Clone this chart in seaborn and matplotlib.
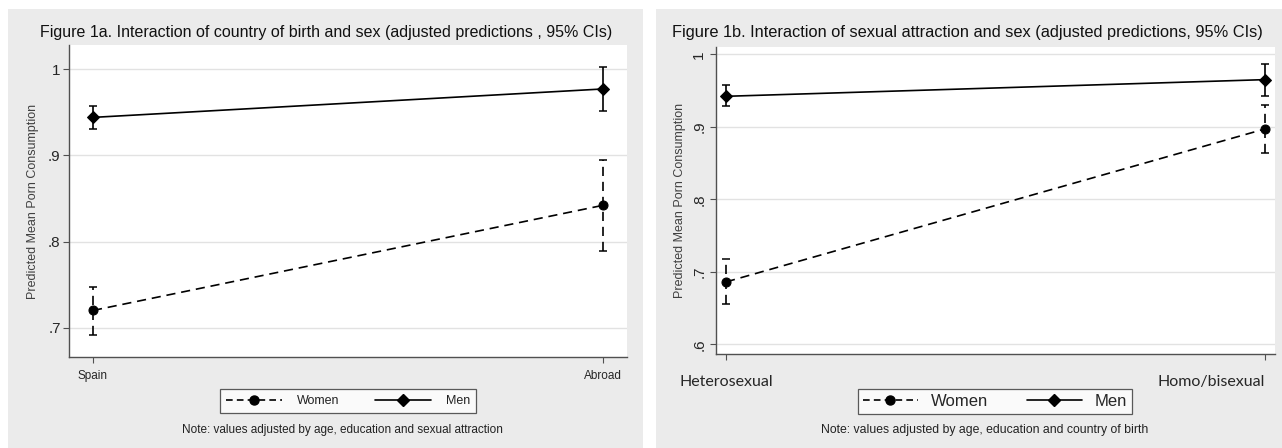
import numpy as np
import pandas as pd
import matplotlib
matplotlib.use("Agg")
import matplotlib.pyplot as plt
from matplotlib.patches import Rectangle
from matplotlib.lines import Line2D
import seaborn as sns

# ---------------- data ----------------
cats_a = ["Spain", "Abroad"]
women_a = [0.720, 0.842]
women_a_lo = [0.692, 0.789]
women_a_hi = [0.747, 0.895]
men_a = [0.944, 0.977]
men_a_lo = [0.930, 0.952]
men_a_hi = [0.957, 1.002]

cats_b = ["Heterosexual", "Homo/bisexual"]
women_b = [0.686, 0.897]
women_b_lo = [0.656, 0.864]
women_b_hi = [0.717, 0.930]
men_b = [0.942, 0.965]
men_b_lo = [0.928, 0.943]
men_b_hi = [0.957, 0.987]

sexes = ["Women", "Men"]
title_a = "Figure 1a. Interaction of country of birth and sex (adjusted predictions , 95% CIs)"
title_b = "Figure 1b. Interaction of sexual attraction and sex (adjusted predictions, 95% CIs)"
note_a = "Note: values adjusted by age, education and sexual attraction"
note_b = "Note: values adjusted by age, education and country of birth"
ylabel = "Predicted Mean Porn Consumption"
yticks_a = [0.7, 0.8, 0.9, 1.0]
yticklabels_a = [".7", ".8", ".9", "1"]
yticks_b = [0.6, 0.7, 0.8, 0.9, 1.0]
yticklabels_b = [".6", ".7", ".8", ".9", "1"]

sns.set_style("white")
plt.rcParams["font.family"] = ["Liberation Sans", "DejaVu Sans"]

W, H = 1282, 448
fig = plt.figure(figsize=(W / 100, H / 100), dpi=100)
fig.patch.set_facecolor("white")

panel_col = "#ebebeb"
fig.add_artist(Rectangle((8 / W, 0), (643 - 8) / W, (H - 9) / H,
                         transform=fig.transFigure, facecolor=panel_col, edgecolor="none", zorder=0))
fig.add_artist(Rectangle((656 / W, 0), (W - 656) / W, (H - 9) / H,
                         transform=fig.transFigure, facecolor=panel_col, edgecolor="none", zorder=0))


def make_df(cats, women, men):
    rows = []
    for i, c in enumerate(cats):
        rows.append({"cat": c, "sex": "Women", "val": women[i]})
        rows.append({"cat": c, "sex": "Men", "val": men[i]})
    return pd.DataFrame(rows)


def draw(ax, cats, women, wlo, whi, men, mlo, mhi, ylim, xlim, yticks, yticklabels):
    df = make_df(cats, women, men)
    sns.lineplot(data=df, x="cat", y="val", hue="sex", style="sex",
                 hue_order=sexes, style_order=sexes,
                 palette={"Women": "black", "Men": "black"},
                 dashes={"Women": (5.5, 3.5), "Men": ""},
                 markers={"Women": "o", "Men": "D"},
                 markersize=6.5, linewidth=1.2, ax=ax, legend=False,
                 markeredgecolor="black", sort=False, zorder=3)
    xs = np.arange(len(cats))
    w = np.array(women); m = np.array(men)
    eb = ax.errorbar(xs, w, yerr=[w - np.array(wlo), np.array(whi) - w], fmt="none",
                     ecolor="black", elinewidth=1.2, capsize=3, capthick=1.1, zorder=2)
    eb[2][0].set_linestyle((0, (5.5, 3.5)))
    ax.errorbar(xs, m, yerr=[m - np.array(mlo), np.array(mhi) - m], fmt="none",
                ecolor="black", elinewidth=1.2, capsize=3, capthick=1.1, zorder=2)
    ax.set_facecolor("white")
    ax.set_ylim(*ylim)
    ax.set_xlim(*xlim)
    ax.set_yticks(yticks)
    ax.set_yticklabels(yticklabels)
    ax.set_xticks(xs)
    ax.set_xticklabels(cats)
    ax.set_xlabel("")
    ax.grid(axis="y", color="#e2e2e2", linewidth=1.0)
    ax.grid(axis="x", visible=False)
    for s in ["top", "right"]:
        ax.spines[s].set_visible(False)
    for s in ["left", "bottom"]:
        ax.spines[s].set_visible(True)
        ax.spines[s].set_color("#505050")
        ax.spines[s].set_linewidth(1.0)
    ax.tick_params(axis="both", which="both", direction="out", length=4, width=0.8,
                   color="#505050", left=True, bottom=True)


# ---------------- Panel A ----------------
axA = fig.add_axes([69 / W, 1 - 357 / H, (627 - 69) / W, (357 - 45) / H])
draw(axA, cats_a, women_a, women_a_lo, women_a_hi, men_a, men_a_lo, men_a_hi,
     (0.666, 1.028), (-0.047, 1.047), yticks_a, yticklabels_a)
axA.tick_params(axis="y", labelsize=11, pad=2)
axA.tick_params(axis="x", labelsize=8.5, pad=5)
axA.set_ylabel(ylabel, fontsize=9, color="#404040")
axA.yaxis.set_label_coords((39 - 69) / 558, 0.5)

# ---------------- Panel B ----------------
axB = fig.add_axes([716 / W, 1 - 354 / H, (1275 - 716) / W, (354 - 47) / H])
draw(axB, cats_b, women_b, women_b_lo, women_b_hi, men_b, men_b_lo, men_b_hi,
     (0.5866, 1.01), (-0.0186, 1.0186), yticks_b, yticklabels_b)
axB.tick_params(axis="y", labelsize=11, pad=3)
for lab in axB.get_yticklabels():
    lab.set_rotation(90)
    lab.set_va("center")
axB.tick_params(axis="x", labelsize=11.5, pad=11)
for lab in axB.get_xticklabels():
    lab.set_fontfamily(["Lato", "DejaVu Sans"])
labs = axB.get_xticklabels()
labs[0].set_ha("center")
labs[1].set_ha("right")
axB.set_ylabel(ylabel, fontsize=9, color="#404040")
axB.yaxis.set_label_coords((686 - 716) / 559, 0.5)

# ---------------- titles ----------------
fig.text(326 / W, 1 - 33 / H, title_a, ha="center", va="center", fontsize=11.5, color="#111111")
fig.text(967 / W, 1 - 33 / H, title_b, ha="center", va="center", fontsize=11.8, color="#111111")

# ---------------- legends ----------------
def handles():
    hw = Line2D([], [], color="black", linestyle=(0, (4, 2.5)), marker="o", markersize=6.5,
                linewidth=1.2)
    hm = Line2D([], [], color="black", linestyle="-", marker="D", markersize=6.5, linewidth=1.2)
    return [hw, hm]

legA = fig.legend(handles(), sexes, loc="center", bbox_to_anchor=(348 / W, 1 - 401 / H),
                  ncol=2, frameon=True, fontsize=9, handlelength=4.5, columnspacing=2.8,
                  handletextpad=1.2, borderpad=0.5, fancybox=False)
legA.get_frame().set_edgecolor("#333333")
legA.get_frame().set_linewidth(0.9)
for t in legA.get_texts():
    t.set_color("#222222")

legB = fig.legend(handles(), sexes, loc="center", bbox_to_anchor=(995 / W, 1 - 401 / H),
                  ncol=2, frameon=True, fontsize=12, handlelength=3.3, columnspacing=2.3,
                  handletextpad=0.8, borderpad=0.3, fancybox=False)
legB.get_frame().set_edgecolor("#333333")
legB.get_frame().set_linewidth(0.9)

# ---------------- notes ----------------
fig.text(342 / W, 1 - 430 / H, note_a, ha="center", va="center", fontsize=8.5, color="#222222")
fig.text(985 / W, 1 - 430 / H, note_b, ha="center", va="center", fontsize=8.8, color="#222222")

fig.savefig("out.png", dpi=100, facecolor="white")
